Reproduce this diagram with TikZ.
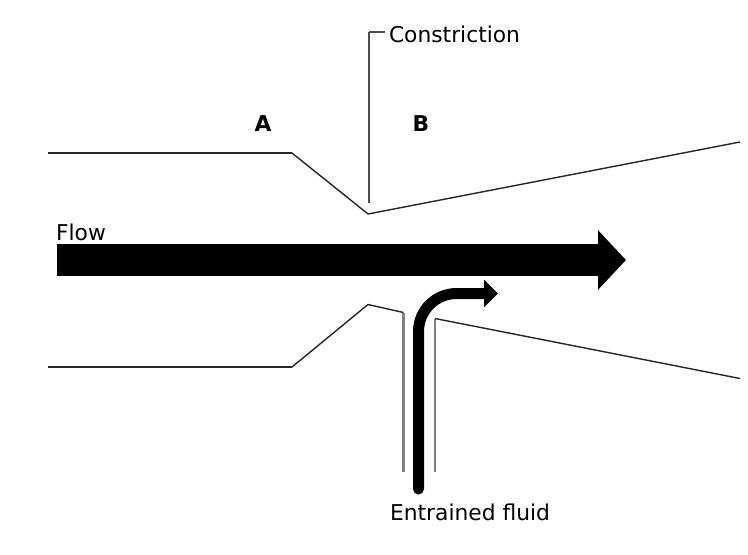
\documentclass[tikz,border=0pt]{standalone}
\usepackage{fontspec}
\setmainfont{DejaVu Sans}
\usetikzlibrary{arrows.meta}
\pgfdeclarelayer{edgelayer}
\pgfdeclarelayer{nodelayer}
\pgfsetlayers{edgelayer,nodelayer,main}
\tikzstyle{none}=[inner sep=0pt,font=\fontsize{12.4pt}{14pt}\selectfont]
\tikzstyle{heading}=[inner sep=0pt,font=\fontsize{12.4pt}{14pt}\selectfont\bfseries]
\tikzstyle{wall}=[-,draw=black!85,line width=0.8pt]
\tikzstyle{leader}=[-,draw=black!70,line width=0.8pt]
\tikzstyle{pipe}=[-,draw=black!50,line width=1.4pt]
\tikzstyle{mainflow}=[-{Triangle[length=0.56cm,width=1.16cm]},draw=black,fill=black,line width=0.64cm]
\tikzstyle{sideflow}=[-{Triangle[length=0.28cm,width=0.54cm]},draw=black,line width=0.22cm,line cap=round,rounded corners=0.76cm]

\begin{document}
\begin{tikzpicture}
	\useasboundingbox (0, 0) rectangle (14.96, -11.08);
	\begin{pgfonlayer}{nodelayer}
		\node [style=none] (0) at (0.96, -3.06) {};
		\node [style=none] (1) at (5.84, -3.06) {};
		\node [style=none] (2) at (7.36, -4.28) {};
		\node [style=none] (3) at (14.8, -2.84) {};
		\node [style=none] (4) at (7.38, -4.06) {};
		\node [style=none] (5) at (7.38, -0.64) {};
		\node [style=none] (6) at (7.7, -0.64) {};
		\node [style=none] (7) at (0.96, -7.34) {};
		\node [style=none] (8) at (5.84, -7.34) {};
		\node [style=none] (9) at (7.36, -6.09) {};
		\node [style=none] (10) at (8.07, -6.25) {};
		\node [style=none] (11) at (8.07, -9.44) {};
		\node [style=none] (12) at (8.7, -9.44) {};
		\node [style=none] (13) at (8.7, -6.37) {};
		\node [style=none] (14) at (14.8, -7.57) {};
		\node [style=none] (15) at (1.14, -5.2) {};
		\node [style=none] (16) at (12.52, -5.2) {};
		\node [style=none] (17) at (8.37, -9.78) {};
		\node [style=none] (18) at (8.37, -5.87) {};
		\node [style=none] (19) at (9.96, -5.87) {};
		\node [style=heading] (20) at (5.26, -2.48) {A};
		\node [style=heading] (21) at (8.42, -2.48) {B};
		\node [style=none] (22) at (9.09, -0.68) {Constriction};
		\node [style=none] (23) at (1.62, -4.64) {Flow};
		\node [style=none] (24) at (9.4, -10.24) {Entrained fluid};
	\end{pgfonlayer}
	\begin{pgfonlayer}{edgelayer}
		\draw [style=wall] (0.center) to (1.center);
		\draw [style=wall] (1.center) to (2.center);
		\draw [style=wall] (2.center) to (3.center);
		\draw [style=leader] (4.center) to (5.center);
		\draw [style=leader] (5.center) to (6.center);
		\draw [style=wall] (7.center) to (8.center);
		\draw [style=wall] (8.center) to (9.center);
		\draw [style=wall] (9.center) to (10.center);
		\draw [style=pipe] (10.center) to (11.center);
		\draw [style=pipe] (12.center) to (13.center);
		\draw [style=wall] (13.center) to (14.center);
		\draw [style=mainflow] (15.center) to (16.center);
		\draw [style=sideflow] (17.center) -- (18.center) -- (19.center);
	\end{pgfonlayer}
\end{tikzpicture}
\end{document}
